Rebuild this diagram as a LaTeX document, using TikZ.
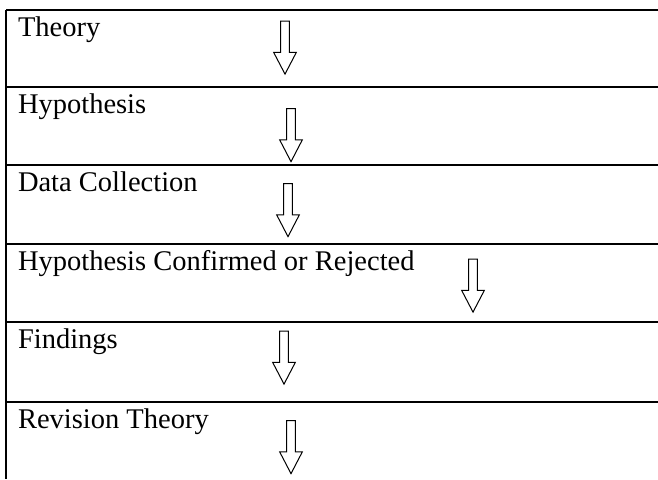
\documentclass[tikz,border=0pt]{standalone}
\usepackage{fontspec}
\setmainfont{Liberation Serif}
\usepackage{tikz}
\usetikzlibrary{shapes.arrows}

\begin{document}
\begin{tikzpicture}[x=1pt,y=-1pt,font=\fontsize{28.5}{34}\selectfont,line width=2pt]
\tikzstyle{lbl}=[anchor=base west,inner sep=0pt]
\tikzstyle{dn}=[draw,line width=1pt,single arrow,shape border rotate=270,single arrow head extend=7pt,single arrow tip angle=55,minimum height=53pt,inner sep=3.8pt]
\useasboundingbox (0,0) rectangle (658,479);
% table rules
\draw (6,10) -- (6,479);
\draw (6,10) -- (658,10);
\draw (6,87) -- (658,87);
\draw (6,165) -- (658,165);
\draw (6,244) -- (658,244);
\draw (6,322) -- (658,322);
\draw (6,402) -- (658,402);
% row texts
\node[lbl] (theory) at (17,36) {Theory};
\node[lbl] (hyp) at (17,113) {Hypothesis};
\node[lbl] (data) at (17,191) {Data Collection};
\node[lbl] (conf) at (17,270) {Hypothesis Confirmed or Rejected};
\node[lbl] (find) at (17,348) {Findings};
\node[lbl] (rev) at (17,428) {Revision Theory};
% down arrows
\node[dn] (a1) at (285,43.5) {};
\node[dn] (a2) at (291,131) {};
\node[dn] (a3) at (288,206) {};
\node[dn] (a4) at (473,281.5) {};
\node[dn] (a5) at (284,353.5) {};
\node[dn] (a6) at (291,443) {};
\end{tikzpicture}
\end{document}
